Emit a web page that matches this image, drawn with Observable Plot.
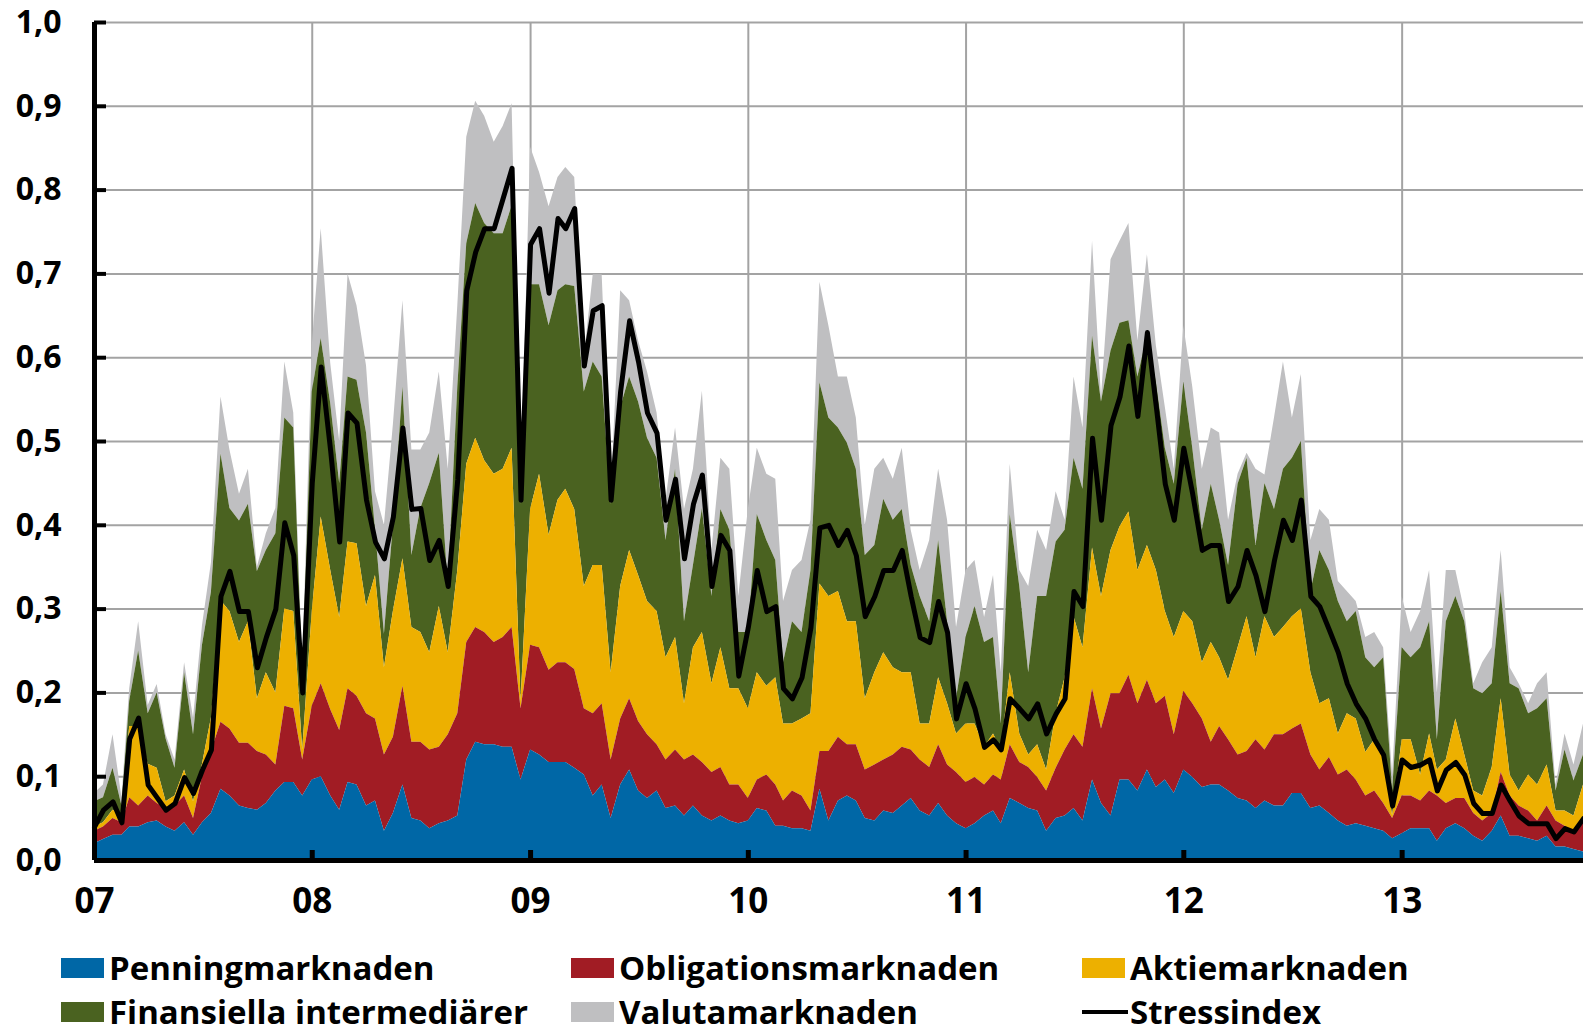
<!DOCTYPE html>
<html><head><meta charset="utf-8">
<script src="https://cdn.jsdelivr.net/npm/d3@7"></script>
<script src="https://cdn.jsdelivr.net/npm/@observablehq/plot@0.6"></script>
<style>
body{margin:0;background:#fff;font-family:"Open Sans",sans-serif;}
#wrap{position:relative;width:1583px;height:1035px;overflow:hidden;background:#fff}
.leg{position:absolute;display:flex;align-items:center;font-weight:700;font-size:33px;line-height:34px;height:34px;color:#000;white-space:nowrap}
.sw{width:43px;height:20px;margin-right:5px;flex:none}
.ln{width:46px;height:4px;background:#000;margin-right:2px;flex:none}
</style></head>
<body><div id="wrap"><div id="chart"></div><div id="legend"></div></div>
<script>
// Half-monthly observation dates
const dates = [
"2007-01-01","2007-01-16","2007-02-01","2007-02-16","2007-03-01","2007-03-16","2007-04-01","2007-04-16","2007-05-01","2007-05-16","2007-06-01","2007-06-16","2007-07-01","2007-07-16","2007-08-01","2007-08-16","2007-09-01","2007-09-16","2007-10-01","2007-10-16","2007-11-01","2007-11-16","2007-12-01","2007-12-16",
"2008-01-01","2008-01-16","2008-02-01","2008-02-16","2008-03-01","2008-03-16","2008-04-01","2008-04-16","2008-05-01","2008-05-16","2008-06-01","2008-06-16","2008-07-01","2008-07-16","2008-08-01","2008-08-16","2008-09-01","2008-09-16","2008-10-01","2008-10-16","2008-11-01","2008-11-16","2008-12-01","2008-12-16",
"2009-01-01","2009-01-16","2009-02-01","2009-02-16","2009-03-01","2009-03-16","2009-04-01","2009-04-16","2009-05-01","2009-05-16","2009-06-01","2009-06-16","2009-07-01","2009-07-16","2009-08-01","2009-08-16","2009-09-01","2009-09-16","2009-10-01","2009-10-16","2009-11-01","2009-11-16","2009-12-01","2009-12-16",
"2010-01-01","2010-01-16","2010-02-01","2010-02-16","2010-03-01","2010-03-16","2010-04-01","2010-04-16","2010-05-01","2010-05-16","2010-06-01","2010-06-16","2010-07-01","2010-07-16","2010-08-01","2010-08-16","2010-09-01","2010-09-16","2010-10-01","2010-10-16","2010-11-01","2010-11-16","2010-12-01","2010-12-16",
"2011-01-01","2011-01-16","2011-02-01","2011-02-16","2011-03-01","2011-03-16","2011-04-01","2011-04-16","2011-05-01","2011-05-16","2011-06-01","2011-06-16","2011-07-01","2011-07-16","2011-08-01","2011-08-16","2011-09-01","2011-09-16","2011-10-01","2011-10-16","2011-11-01","2011-11-16","2011-12-01","2011-12-16",
"2012-01-01","2012-01-16","2012-02-01","2012-02-16","2012-03-01","2012-03-16","2012-04-01","2012-04-16","2012-05-01","2012-05-16","2012-06-01","2012-06-16","2012-07-01","2012-07-16","2012-08-01","2012-08-16","2012-09-01","2012-09-16","2012-10-01","2012-10-16","2012-11-01","2012-11-16","2012-12-01","2012-12-16",
"2013-01-01","2013-01-16","2013-02-01","2013-02-16","2013-03-01","2013-03-16","2013-04-01","2013-04-16","2013-05-01","2013-05-16","2013-06-01","2013-06-16","2013-07-01","2013-07-16","2013-08-01","2013-08-16","2013-09-01","2013-09-16","2013-10-01","2013-10-16","2013-11-01"
];

// Upper edge of each stacked layer (cumulative)
const penningTop = [
.02,.025,.03,.03,.04,.04,.045,.047,.04,.035,.045,.03,
.045,.056,.085,.077,.065,.062,.06,.068,.083,.093,.093,.077,
.096,.1,.077,.06,.093,.09,.065,.071,.035,.056,.09,.05,
.047,.038,.044,.047,.053,.12,.141,.138,.138,.135,.135,.096,
.132,.126,.117,.117,.117,.11,.102,.077,.09,.05,.09,.108,
.083,.074,.083,.062,.065,.053,.065,.053,.047,.053,.047,.044,
.047,.062,.059,.041,.041,.038,.038,.035,.085,.047,.071,.077,
.071,.05,.047,.059,.056,.065,.074,.059,.053,.068,.053,.044,
.038,.044,.053,.059,.044,.074,.068,.062,.059,.035,.05,.053,
.062,.047,.096,.068,.053,.096,.096,.083,.108,.087,.096,.08,
.108,.099,.087,.09,.09,.083,.074,.071,.062,.071,.065,.065,
.08,.08,.062,.065,.056,.047,.041,.044,.041,.038,.035,.026,
.032,.038,.038,.038,.023,.038,.044,.038,.029,.023,.035,.053,
.029,.029,.026,.023,.029,.016,.016,.013,.01];
const obligationTop = [
.035,.04,.05,.045,.075,.065,.077,.068,.062,.065,.077,.05,
.1,.13,.165,.157,.14,.14,.13,.126,.114,.184,.181,.12,
.184,.211,.18,.155,.205,.196,.175,.169,.126,.147,.208,.141,
.141,.132,.135,.15,.175,.26,.278,.272,.26,.266,.278,.181,
.257,.254,.227,.236,.236,.228,.181,.175,.187,.12,.169,.193,
.166,.15,.138,.12,.132,.12,.126,.117,.105,.111,.09,.09,
.074,.096,.102,.09,.071,.083,.077,.059,.13,.13,.147,.138,
.138,.108,.114,.12,.126,.135,.132,.12,.111,.138,.114,.105,
.093,.099,.09,.102,.096,.138,.117,.111,.099,.083,.11,.132,
.15,.135,.205,.157,.199,.199,.221,.187,.215,.187,.196,.15,
.202,.187,.169,.141,.16,.144,.126,.13,.144,.132,.15,.15,
.157,.163,.126,.108,.123,.102,.108,.096,.077,.083,.068,.05,
.077,.077,.071,.083,.077,.068,.074,.074,.056,.047,.056,.105,
.077,.065,.059,.047,.065,.047,.041,.035,.047];
const aktieTop = [
.04,.045,.06,.055,.16,.16,.115,.11,.07,.077,.108,.07,
.115,.17,.31,.297,.26,.285,.193,.224,.2,.3,.297,.132,
.297,.41,.346,.29,.38,.378,.303,.34,.23,.297,.36,.278,
.272,.248,.303,.248,.346,.473,.504,.477,.461,.467,.492,.19,
.419,.461,.388,.43,.443,.419,.327,.352,.352,.224,.327,.37,
.34,.309,.297,.242,.266,.187,.254,.272,.211,.254,.205,.205,
.181,.224,.208,.218,.163,.163,.169,.175,.33,.315,.321,.285,
.285,.193,.224,.248,.23,.224,.224,.163,.163,.218,.187,.151,
.163,.163,.135,.151,.132,.224,.151,.126,.138,.108,.175,.218,
.291,.254,.373,.315,.37,.398,.416,.346,.376,.346,.297,.266,
.297,.285,.236,.26,.242,.215,.254,.291,.242,.291,.266,.278,
.291,.3,.224,.187,.193,.151,.175,.169,.129,.144,.123,.053,
.144,.144,.102,.151,.108,.12,.169,.126,.083,.077,.111,.193,
.102,.083,.102,.09,.114,.059,.059,.053,.09];
const finansTop = [
.07,.075,.11,.065,.19,.25,.175,.2,.145,.11,.224,.15,
.257,.32,.485,.42,.405,.425,.345,.37,.39,.528,.516,.22,
.559,.623,.545,.45,.577,.573,.51,.395,.27,.4,.565,.364,
.42,.45,.486,.327,.565,.736,.784,.76,.748,.748,.781,.425,
.687,.687,.638,.68,.687,.685,.559,.595,.577,.425,.54,.577,
.547,.504,.48,.382,.467,.285,.352,.42,.315,.419,.394,.272,
.272,.413,.382,.358,.236,.285,.272,.346,.57,.528,.516,.498,
.467,.364,.376,.431,.406,.419,.352,.315,.285,.382,.285,.193,
.266,.303,.26,.266,.163,.413,.327,.224,.315,.315,.38,.394,
.48,.443,.626,.547,.608,.641,.644,.577,.626,.571,.492,.449,
.571,.492,.394,.449,.406,.352,.449,.48,.376,.45,.419,.467,
.48,.5,.321,.37,.346,.309,.285,.297,.242,.23,.242,.083,
.254,.242,.254,.285,.144,.285,.315,.285,.205,.199,.211,.321,
.211,.205,.175,.181,.193,.083,.132,.095,.126];
const valutaTop = [
.08,.09,.15,.075,.205,.285,.185,.21,.15,.12,.236,.17,
.28,.355,.553,.49,.437,.467,.35,.39,.42,.595,.534,.23,
.614,.754,.593,.5,.7,.662,.59,.44,.4,.52,.668,.49,
.49,.51,.583,.467,.662,.863,.906,.888,.857,.876,.903,.443,
.851,.821,.78,.815,.827,.815,.6,.699,.699,.437,.68,.668,
.62,.583,.534,.43,.516,.419,.467,.56,.37,.48,.467,.315,
.419,.492,.461,.455,.309,.346,.358,.406,.69,.638,.577,.577,
.528,.4,.467,.48,.455,.492,.394,.346,.382,.467,.406,.278,
.346,.358,.29,.34,.224,.473,.346,.327,.394,.37,.44,.406,
.577,.516,.739,.553,.717,.739,.76,.62,.723,.614,.541,.467,
.638,.565,.467,.516,.51,.406,.461,.486,.467,.46,.528,.595,
.528,.58,.382,.419,.406,.333,.321,.309,.266,.272,.254,.102,
.315,.272,.297,.346,.2,.346,.346,.297,.211,.236,.254,.37,
.23,.211,.187,.211,.224,.09,.151,.114,.163];
const stressindex = [
.04,.06,.07,.045,.145,.17,.09,.075,.06,.068,.099,.08,
.108,.132,.315,.345,.297,.297,.23,.266,.3,.403,.364,.2,
.45,.589,.488,.38,.534,.522,.43,.38,.36,.41,.516,.419,
.42,.358,.382,.327,.455,.68,.726,.754,.754,.79,.826,.43,
.735,.754,.677,.766,.754,.778,.59,.656,.662,.43,.56,.644,
.595,.534,.51,.406,.455,.36,.425,.46,.327,.388,.37,.22,
.278,.346,.297,.303,.205,.193,.218,.278,.397,.4,.376,.394,
.364,.291,.315,.346,.346,.37,.315,.266,.26,.309,.272,.169,
.211,.181,.135,.144,.132,.193,.181,.169,.187,.151,.175,.193,
.321,.303,.504,.406,.519,.553,.614,.53,.63,.541,.449,.406,
.492,.437,.37,.376,.376,.309,.327,.37,.34,.297,.358,.406,
.382,.43,.315,.303,.275,.248,.211,.187,.169,.144,.126,.065,
.12,.111,.114,.12,.083,.108,.117,.102,.068,.056,.056,.09,
.071,.053,.044,.044,.044,.026,.038,.034,.05];

const seriesNames = ["Penningmarknaden","Obligationsmarknaden","Aktiemarknaden","Finansiella intermediärer","Valutamarknaden","Stressindex"];
const seriesColors = ["#0067a6","#a11c24","#edb000","#4a6220","#bfbfc1","#000000"];
const yTicks = [0,0.1,0.2,0.3,0.4,0.5,0.6,0.7,0.8,0.9,1.0];
const yearTicks = ["2007-01-01","2008-01-01","2009-01-01","2010-01-01","2011-01-01","2012-01-01","2013-01-01"];
const yearLabels = ["07","08","09","10","11","12","13"];

const rows = dates.map((d,i)=>({date:new Date(d), p:penningTop[i], o:obligationTop[i], a:aktieTop[i], f:finansTop[i], v:valutaTop[i], s:stressindex[i]}));
const yearDates = yearTicks.map(d=>new Date(d));
const x0 = new Date(dates[0]), x1 = new Date(dates[dates.length-1]);
const W = 1583, H = 930, mL = 94, mR = 0, mT = 22, mB = 70;
const fw = W - mL - mR, fh = H - mT - mB;

const chart = Plot.plot({
  width: W, height: H, marginLeft: mL, marginRight: mR, marginTop: mT, marginBottom: mB,
  style: {fontFamily: '"Open Sans", sans-serif', fontSize: "35px", fontWeight: 700, color: "#000", background: "#fff", overflow: "visible"},
  x: {type: "utc", domain: [x0, x1]},
  y: {domain: [0, 1]},
  marks: [
    Plot.gridY(yTicks.slice(1), {stroke: "#a3a3a3", strokeOpacity: 1, strokeWidth: 2}),
    Plot.gridX(yearDates.slice(1), {stroke: "#a3a3a3", strokeOpacity: 1, strokeWidth: 2}),
    Plot.areaY(rows, {x: "date", y1: "f", y2: "v", fill: seriesColors[4]}),
    Plot.areaY(rows, {x: "date", y1: "a", y2: "f", fill: seriesColors[3]}),
    Plot.areaY(rows, {x: "date", y1: "o", y2: "a", fill: seriesColors[2]}),
    Plot.areaY(rows, {x: "date", y1: "p", y2: "o", fill: seriesColors[1]}),
    Plot.areaY(rows, {x: "date", y1: 0, y2: "p", fill: seriesColors[0]}),
    Plot.lineY(rows, {x: "date", y: "s", stroke: "#000", strokeWidth: 5, strokeLinejoin: "round"}),
    Plot.ruleY(yTicks, {stroke: "#000", strokeWidth: 4, insetRight: fw - 12}),
    Plot.ruleX(yearDates.slice(1), {stroke: "#000", strokeWidth: 5, insetTop: fh - 10}),
    Plot.ruleX([x0], {stroke: "#000", strokeWidth: 5}),
    Plot.ruleY([0], {stroke: "#000", strokeWidth: 5}),
    Plot.axisY(yTicks, {tickSize: 0, tickPadding: 33, fontSize: 32, tickFormat: d => d.toFixed(1).replace(".", ","), label: null}),
    Plot.axisX(yearDates, {tickSize: 0, tickPadding: 28, tickFormat: d => yearLabels[yearDates.findIndex(t => +t === +d)], label: null})
  ]
});
document.getElementById("chart").appendChild(chart);

// Legend below the chart
const legendPos = [[61,951],[571,951],[1082,951],[61,995],[571,995],[1082,995]];
const leg = document.getElementById("legend");
seriesNames.forEach((name,i)=>{
  const div = document.createElement("div");
  div.className = "leg";
  div.style.left = legendPos[i][0] + "px";
  div.style.top = legendPos[i][1] + "px";
  const mark = document.createElement("span");
  if (i === 5) { mark.className = "ln"; }
  else { mark.className = "sw"; mark.style.background = seriesColors[i]; }
  const t = document.createElement("span");
  t.textContent = name;
  div.appendChild(mark); div.appendChild(t);
  leg.appendChild(div);
});
</script>
</body></html>
